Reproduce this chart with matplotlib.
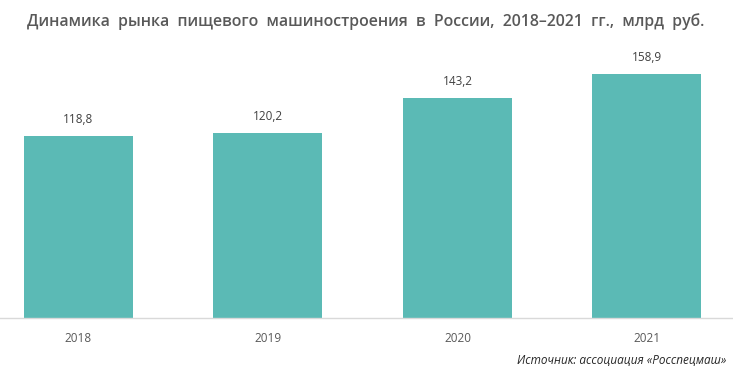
import matplotlib.pyplot as plt

plt.rcParams["font.family"] = ["Open Sans", "DejaVu Sans"]

# Data
years = ["2018", "2019", "2020", "2021"]
values = [118.8, 120.2, 143.2, 158.9]
value_labels = ["118,8", "120,2", "143,2", "158,9"]

W, H = 733, 373
fig = plt.figure(figsize=(W / 100, H / 100), dpi=100)

# axes: full width, baseline at y=318 px, top at y=40 px
base_px, top_px = 318, 40
ax = fig.add_axes([0, 1 - base_px / H, 1, (base_px - top_px) / H])

x = range(len(years))
ax.bar(x, values, width=0.575, color="#5BBAB5", zorder=2)
ax.set_xlim(-0.414, 3.454)
ax.set_ylim(0, (base_px - top_px) / 1.5356)

for i, (v, lab) in enumerate(zip(values, value_labels)):
    ax.text(i, v + 6.5, lab, ha="center", va="bottom", fontsize=8.5, color="#404040")

for s in ["top", "right", "left"]:
    ax.spines[s].set_visible(False)
ax.spines["bottom"].set_color("#D9D9D9")
ax.spines["bottom"].set_linewidth(1)
ax.set_yticks([])
ax.set_xticks(list(x))
ax.set_xticklabels(years, fontsize=8.5, color="#595959")
ax.tick_params(axis="x", length=0, pad=10)

fig.text(366 / W, 1 - 22 / H,
         "Динамика  рынка  пищевого  машиностроения  в  России,  2018–2021  гг.,  млрд  руб.",
         ha="center", va="center", fontsize=11.4, fontweight="semibold", color="#595959")
fig.text(726 / W, 1 - 360 / H, "Источник: ассоциация «Росспецмаш»",
         ha="right", va="center", fontsize=8.5, style="italic", color="#262626")

fig.savefig("out.png", dpi=100)
